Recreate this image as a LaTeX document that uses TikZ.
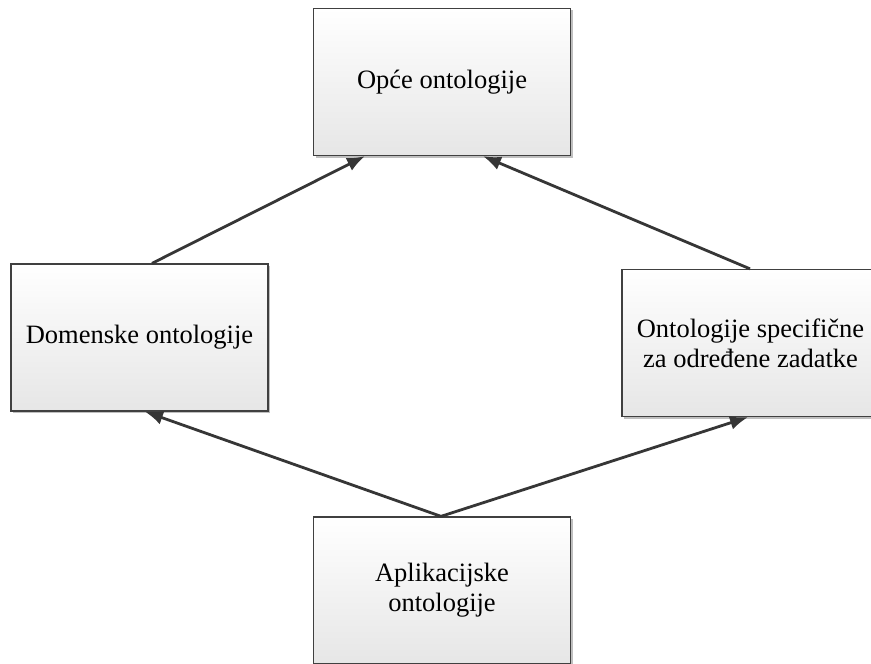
\documentclass[tikz,border=0pt]{standalone}
\usepackage{fontspec}
\setmainfont{Liberation Serif}
\usetikzlibrary{shadows,arrows.meta}
\definecolor{boxline}{HTML}{404040}
\definecolor{boxbot}{HTML}{E6E6E6}
\definecolor{arrowc}{HTML}{363636}
\tikzset{
  ontobox/.style={draw=boxline, line width=1.3bp, top color=white, bottom color=boxbot,
    minimum width=257bp, minimum height=147bp, inner sep=0pt, align=center,
    font=\fontsize{26.6}{30}\selectfont, text=black,
    drop shadow={shadow xshift=2bp, shadow yshift=-2bp, opacity=0.25, fill=black}},
  link/.style={draw=arrowc, line width=2.8bp, -{Latex[length=18bp,width=14bp]}}
}
\begin{document}
\begin{tikzpicture}[x=1bp,y=-1bp]
\useasboundingbox (0,0) rectangle (871,664);
\clip (0,0) rectangle (871,664);
\node[ontobox] (top) at (442,82) {Opće ontologije};
\node[ontobox] (dom) at (139.5,337.5) {Domenske ontologije};
\node[ontobox] (spec) at (750.5,343) {Ontologije specifične\\za određene zadatke};
\node[ontobox] (app) at (442,590.5) {Aplikacijske\\ontologije};
\draw[link] ([xshift=12.5bp]dom.north) -- ([xshift=-77bp]top.south);
\draw[link] ([xshift=-0.5bp]spec.north) -- ([xshift=41bp]top.south);
\draw[link] ([xshift=-1bp]app.north) -- ([xshift=5.5bp]dom.south);
\draw[link] ([xshift=-1bp]app.north) -- ([xshift=-2.5bp]spec.south);
\end{tikzpicture}
\end{document}
